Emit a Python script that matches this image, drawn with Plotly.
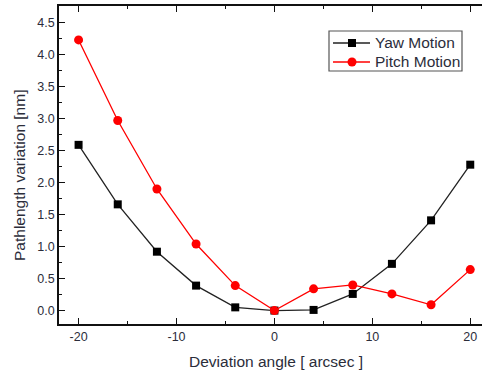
import plotly.graph_objects as go

angles = [-20, -16, -12, -8, -4, 0, 4, 8, 12, 16, 20]
yaw = [2.59, 1.66, 0.92, 0.39, 0.05, 0.0, 0.01, 0.26, 0.73, 1.41, 2.28]
pitch = [4.23, 2.97, 1.90, 1.04, 0.39, 0.0, 0.34, 0.40, 0.26, 0.09, 0.64]
x_ticks = [-20, -10, 0, 10, 20]
y_ticks = [0.0, 0.5, 1.0, 1.5, 2.0, 2.5, 3.0, 3.5, 4.0, 4.5]
series_names = ["Yaw Motion", "Pitch Motion"]
series_colors = ["#000000", "#ff0000"]
line_colors = ["#222222", "#ff0000"]

W, H = 482, 371
ML, MR, MT, MB = 59, 0, 6, 47
PW, PH = W - ML - MR, H - MT - MB


def px(x):
    return (x - ML) / PW


def py(y):
    return (H - MB - y) / PH


txt = "#2b2d3a"
fig = go.Figure()
fig.add_trace(go.Scatter(x=angles, y=yaw, mode="lines+markers", name=series_names[0],
                         line=dict(color=line_colors[0], width=1.3),
                         marker=dict(symbol="square", size=8, color=series_colors[0])))
fig.add_trace(go.Scatter(x=angles, y=pitch, mode="lines+markers", name=series_names[1],
                         line=dict(color=line_colors[1], width=1.3),
                         marker=dict(symbol="circle", size=9, color=series_colors[1])))

# manual legend (Origin-style compact box)
shapes = [dict(type="rect", xref="paper", yref="paper",
               x0=px(329), x1=px(462), y0=py(71), y1=py(31),
               line=dict(color="#555555", width=1.2), fillcolor="white", layer="above")]
annotations = []
rows = [43, 62]
for i, yy in enumerate(rows):
    shapes.append(dict(type="line", xref="paper", yref="paper",
                       x0=px(333), x1=px(370), y0=py(yy), y1=py(yy),
                       line=dict(color=line_colors[i], width=1.3), layer="above"))
    if i == 0:
        shapes.append(dict(type="rect", xref="paper", yref="paper",
                           x0=px(348), x1=px(356), y0=py(yy + 4), y1=py(yy - 4),
                           line=dict(color=series_colors[i], width=0), fillcolor=series_colors[i],
                           layer="above"))
    else:
        shapes.append(dict(type="circle", xref="paper", yref="paper",
                           x0=px(347.5), x1=px(356.5), y0=py(yy + 4.5), y1=py(yy - 4.5),
                           line=dict(color=series_colors[i], width=0), fillcolor=series_colors[i],
                           layer="above"))
    annotations.append(dict(text=series_names[i], xref="paper", yref="paper",
                            x=px(373), y=py(yy), xanchor="left", yanchor="middle",
                            showarrow=False, font=dict(size=15.5, color=txt)))

# axis titles
annotations.append(dict(text="Deviation angle [ arcsec ]", xref="paper", yref="paper",
                        x=px(275.5), y=py(361), xanchor="center", yanchor="middle",
                        showarrow=False, font=dict(size=15.5, color=txt)))
annotations.append(dict(text="Pathlength variation [nm]", xref="paper", yref="paper",
                        x=px(19), y=py(176), xanchor="center", yanchor="middle",
                        textangle=-90, showarrow=False, font=dict(size=15.5, color=txt)))

fig.update_layout(
    width=W, height=H,
    margin=dict(l=ML, r=MR, t=MT, b=MB),
    paper_bgcolor="white", plot_bgcolor="white",
    font=dict(family="Liberation Sans, Arial, sans-serif", color=txt, size=12.5),
    showlegend=False,
    shapes=shapes,
    annotations=annotations,
    xaxis=dict(range=[-22, 21.2], tickvals=x_ticks, ticktext=[str(v) for v in x_ticks],
               showline=True, linecolor="#111111", linewidth=1.5, mirror="ticks",
               ticks="inside", ticklen=6, tickwidth=1.2, tickcolor="#111111",
               minor=dict(ticks="inside", ticklen=3, tickwidth=1.2, dtick=5, tickcolor="#111111"),
               showgrid=False, zeroline=False,
               tickfont=dict(size=12.5)),
    yaxis=dict(range=[-0.21, 4.76], tickvals=y_ticks, ticktext=[f"{v:.1f}" for v in y_ticks],
               showline=True, linecolor="#111111", linewidth=1.5, mirror=False,
               ticks="inside", ticklen=6, tickwidth=1.2, tickcolor="#111111",
               minor=dict(ticks="inside", ticklen=3, tickwidth=1.2, dtick=0.25, tickcolor="#111111"),
               showgrid=False, zeroline=False,
               tickfont=dict(size=12.5)),
)
fig.write_html("out.html")
